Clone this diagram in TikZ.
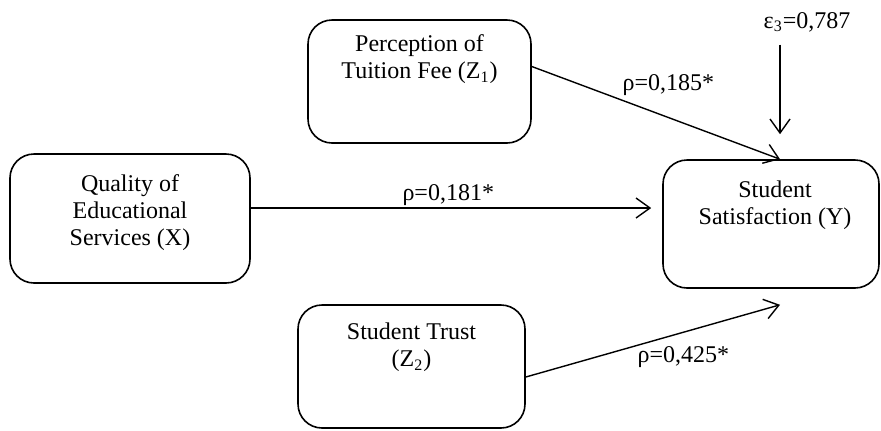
\documentclass[tikz,border=0pt]{standalone}
\usepackage{fontspec}
\setmainfont{Liberation Serif}
\usetikzlibrary{arrows.meta,positioning}
\tikzset{%
    >={Straight Barb[length=7pt,width=10pt]},
    base/.style = {
        rectangle, rounded corners=12pt, draw=black, line width=0.8pt,
        inner sep=0pt
    },
    inbox/.style = {align=center, inner sep=0pt, anchor=north},
    coef/.style = {inner sep=1pt},
}

\begin{document}
\begin{tikzpicture}[
        x=0.5pt, y=-0.5pt,
        every node/.style={font=\fontsize{12}{13.5}\selectfont},
        line width=0.7pt
    ]
        \useasboundingbox (0,0) rectangle (881,430);
        % Nodes position
        \node (quality)   [base, minimum width=120pt, minimum height=64.5pt,
            label={[inbox, yshift=-10.5pt]north:{Quality of\\Educational\\Services (X)}}]
            at (130,218.5) {};
        \node (tuition)   [base, minimum width=111.5pt, minimum height=61.5pt,
            label={[inbox, yshift=-7.5pt]north:{Perception of\\Tuition Fee (Z\textsubscript{1})}}]
            at (419.5,81.5) {};
        \node (trust)     [base, minimum width=113.5pt, minimum height=61.5pt,
            label={[inbox, yshift=-9pt]north:{Student Trust\\(Z\textsubscript{2})}}]
            at (411.5,366.5) {};
        \node (satisfaction) [base, minimum width=108pt, minimum height=64pt,
            label={[inbox, yshift=-10.5pt, xshift=2pt]north:{Student\\Satisfaction (Y)}}]
            at (771,224) {};
        \node (error) [coef] at (807,22) {ε\textsubscript{3}=0,787};

        \coordinate (qualityOut) at ([yshift=5.25pt]quality.east);
        \coordinate (topIn) at ([xshift=4.5pt]satisfaction.north);
        \coordinate (bottomIn) at ([xshift=4.5pt, yshift=-8pt]satisfaction.south);

        % Arrow specification
        \draw[->, shorten >=5.5pt] (qualityOut) --
            node[coef, pos=0.48, above]{ρ=0,181*} (qualityOut -| satisfaction.west);
        \draw[->] ([yshift=7.5pt]tuition.east) --
            node[coef, pos=0.55, above=9.5pt]{ρ=0,185*} (topIn);
        \draw[->, shorten <=5pt, shorten >=12.5pt] (error.south -| topIn) -- (topIn);
        \draw[->] ([yshift=-5.25pt]trust.east) --
            node[coef, pos=0.62, below=6pt]{ρ=0,425*} (bottomIn);
    \end{tikzpicture}
\end{document}
